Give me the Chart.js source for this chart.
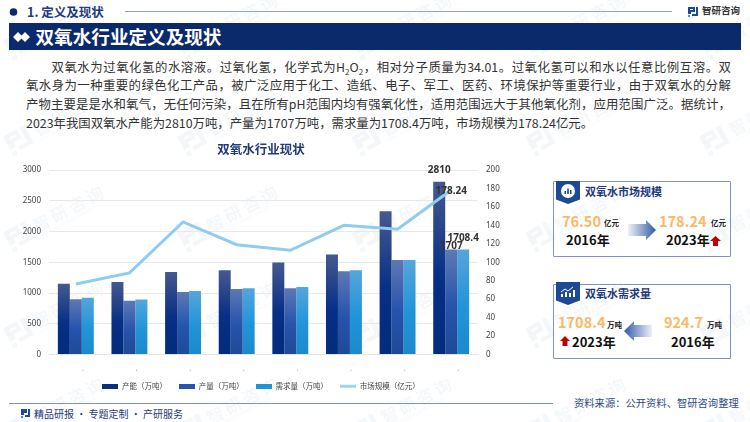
<!DOCTYPE html>
<html lang="zh">
<head>
<meta charset="utf-8">
<script src="https://cdn.jsdelivr.net/npm/chart.js@4"></script>
<style>
* { margin: 0; padding: 0; box-sizing: border-box; }
html, body { width: 750px; height: 422px; overflow: hidden; background: #fff; }
body { position: relative; font-family: "Noto Sans CJK SC", "Noto Sans", sans-serif; color: #333; }
.abs { position: absolute; white-space: nowrap; line-height: 1; }
.mark { position: absolute; width: 112px; height: 40px; transform: rotate(-28deg); opacity: .05; color: #2a6fb5; }
.mark svg { position: absolute; left: 0; top: 6px; }
.mark b { position: absolute; left: 30px; top: 4px; font-size: 17px; letter-spacing: 3px; font-weight: 500; white-space: nowrap; }
.mark i { position: absolute; left: 31px; top: 25px; font-size: 4px; font-style: normal; white-space: nowrap; }
#band { position: absolute; left: 9px; top: 23px; width: 732px; height: 27px; background: #0a2a6b; }
#intro { position: absolute; left: 26px; top: 57.5px; width: 705px; font-size: 12.4px; line-height: 18.7px; color: #333; }
#intro div { text-align: justify; text-align-last: justify; white-space: nowrap; }
#intro div.first { padding-left: 25.5px; }
#intro div.end { text-align-last: left; }
#intro sub { font-size: 8px; line-height: 0; }
#wrap { position: absolute; left: 0; top: 140px; width: 522px; height: 260px; }
.card { position: absolute; left: 552.5px; width: 178px; background: transparent; border: 1.5px solid #7f93c4; border-radius: 1px; }
.rib { position: absolute; left: 556px; width: 24px; height: 23px; background: #1d4a97; clip-path: polygon(0 0, 100% 0, 100% 80%, 50% 100%, 0 80%); }
.ttl { font-weight: 700; font-size: 11px; color: #1f3a7d; }
.val { font-weight: 700; font-size: 14.5px; color: #fbb868; }
.unit { font-weight: 700; font-size: 7.5px; color: #222; }
.yr { font-weight: 700; font-size: 13px; color: #111; }
</style>
</head>
<body>
<div id="marks"></div>

<svg class="abs" style="left:9px;top:7px" width="10" height="10"><circle cx="4.5" cy="5" r="3.8" fill="#0a2a6b"/></svg>
<div class="abs" style="left:27px;top:5.5px;font-size:12.5px;font-weight:700;color:#1f3a7d">1. 定义及现状</div>
<div class="abs" style="left:125px;top:11px;width:547px;height:1px;background:#8fa3cc"></div>
<svg class="abs" style="left:687px;top:6px" width="12" height="12"><path d="M1 1h7v5H4v2H1zM3 3v1h3V3zM9 1h2v9H5V8h4z" fill="#1d4a97"/><rect x="1" y="9" width="2" height="2" fill="#2a9ad8"/></svg>
<div class="abs" style="left:702px;top:6px;font-size:9.5px;font-weight:700;color:#333">智研咨询</div>

<div id="band"></div>
<svg class="abs" style="left:13px;top:31px" width="17" height="12"><path d="M5 1l5 5-5 5-5-5z M12 1l5 5-5 5-5-5z" fill="#fff"/></svg>
<div class="abs" style="left:35.5px;top:27px;font-size:18.6px;font-weight:700;color:#fff">双氧水行业定义及现状</div>

<div id="intro">
<div class="first">双氧水为过氧化氢的水溶液。过氧化氢&#xFF0C;化学式为H<sub>2</sub>O<sub>2</sub>&#xFF0C;相对分子质量为34.01。过氧化氢可以和水以任意比例互溶。双</div>
<div>氧水身为一种重要的绿色化工产品&#xFF0C;被广泛应用于化工、造纸、电子、军工、医药、环境保护等重要行业&#xFF0C;由于双氧水的分解</div>
<div>产物主要是是水和氧气&#xFF0C;无任何污染&#xFF0C;且在所有pH范围内均有强氧化性&#xFF0C;适用范围远大于其他氧化剂&#xFF0C;应用范围广泛。据统计&#xFF0C;</div>
<div class="end">2023年我国双氧水产能为2810万吨&#xFF0C;产量为1707万吨&#xFF0C;需求量为1708.4万吨&#xFF0C;市场规模为178.24亿元。</div>
</div>

<div id="wrap"><canvas id="myChart"></canvas></div>

<div class="card" style="top:181px;height:76px"></div>
<div class="rib" style="top:181px"></div>
<svg class="abs" style="left:560px;top:183px" width="16" height="16"><circle cx="8" cy="8" r="7" fill="#fff"/><path d="M4.5 11V8h1.6v3zM7.2 11V5.5h1.6V11zM9.9 11V7h1.6v4z" fill="#1d4a97"/></svg>
<div class="abs ttl" style="left:585px;top:186px">双氧水市场规模</div>
<div class="abs val" style="left:562px;top:214px">76.50</div>
<div class="abs unit" style="left:604px;top:219px">亿元</div>
<div class="abs yr" style="left:566px;top:233px">2016年</div>
<svg class="abs" style="left:628px;top:220px" width="29" height="20"><defs><linearGradient id="g1"><stop offset="0" stop-color="#2f5aa8" stop-opacity=".08"/><stop offset="1" stop-color="#2f5aa8"/></linearGradient></defs><path d="M0 4h18V0l10 10-10 10v-4H0z" fill="url(#g1)"/></svg>
<div class="abs val" style="left:659px;top:214px">178.24</div>
<div class="abs unit" style="left:711px;top:219px">亿元</div>
<div class="abs yr" style="left:666px;top:233px">2023年</div>
<svg class="abs" style="left:710px;top:236px" width="11" height="10"><path d="M5.5 0L11 5H8v5H3V5H0z" fill="#c00000"/></svg>

<div class="card" style="top:284px;height:75px"></div>
<div class="rib" style="top:282px"></div>
<svg class="abs" style="left:560px;top:285px" width="16" height="14"><path d="M1 12V9h2v3zM5 12V7h2v5zM9 12V8h2v4zM13 12V5h2v7z" fill="#fff"/><path d="M1 7l4-3 3 2 5-4" stroke="#fff" fill="none"/></svg>
<div class="abs ttl" style="left:585px;top:288px">双氧水需求量</div>
<div class="abs val" style="left:558px;top:315px">1708.4</div>
<div class="abs unit" style="left:607px;top:321px">万吨</div>
<svg class="abs" style="left:624px;top:321px" width="28" height="20"><defs><linearGradient id="g2" x1="1" x2="0"><stop offset="0" stop-color="#2f5aa8" stop-opacity=".08"/><stop offset="1" stop-color="#2f5aa8"/></linearGradient></defs><path d="M28 4H10V0L0 10l10 10v-4h18z" fill="url(#g2)"/></svg>
<div class="abs val" style="left:664px;top:315px">924.7</div>
<div class="abs unit" style="left:707px;top:321px">万吨</div>
<svg class="abs" style="left:560px;top:336px" width="10" height="10"><path d="M5 0L10 5H7.5v5h-5V5H0z" fill="#c00000"/></svg>
<div class="abs yr" style="left:572px;top:335px">2023年</div>
<div class="abs yr" style="left:671px;top:335px">2016年</div>

<div class="abs" style="left:9px;top:403px;width:544px;height:1px;background:#7f93c4"></div>
<svg class="abs" style="left:21px;top:409px" width="10" height="10"><path d="M0 0h6v4H3v2H0zM7 0h2v8H4V6h3z" fill="#1d4a97"/><rect y="7" width="2" height="2" fill="#2a9ad8"/></svg>
<div class="abs" style="left:34px;top:409px;font-size:10px;color:#1f3a7d">精品研报 · 专题定制 · 产研服务</div>
<div class="abs" style="left:574px;top:398px;font-size:10.3px;color:#2c4a85">资料来源&#xFF1A;公开资料、智研咨询整理</div>

<script>
// watermark grid
const marks = document.getElementById('marks');
[2, 176, 350, 524, 698].forEach(x => {
    [5, 101, 197, 293, 389].forEach(y => {
        const m = document.createElement('div');
        m.className = 'mark';
        m.style.left = x + 'px';
        m.style.top = y + 'px';
        m.innerHTML = '<svg width="26" height="26"><path d="M0 2h16v10H7v5H0zM5 6v2h7V6zM19 2h5v20H9v-4h10z" fill="currentColor"/><rect y="20" width="5" height="5" fill="currentColor"/></svg><b>智研咨询</b><i>INTELLIGENCE RESEARCH GROUP</i>';
        marks.appendChild(m);
    });
});

const years = ['2016年', '2017年', '2018年', '2019年', '2020年', '2021年', '2022年', '2023年'];
const capacity = [1150, 1180, 1343, 1370, 1495, 1625, 2328, 2810];
const output = [899, 872, 1018, 1067, 1078, 1354, 1538, 1707];
const demand = [924.7, 893, 1034, 1078, 1099, 1370, 1538, 1708.4];
const market = [76.5, 88.5, 143.7, 119, 113, 140, 135.7, 178.24];

// each bar fades from a pale top to its darker base
function barGradient(stops) {
    return function(c) {
        const chart = c.chart;
        if (!chart.chartArea || c.parsed === undefined) return stops[1];
        const top = chart.scales.y.getPixelForValue(c.parsed.y);
        const g = chart.ctx.createLinearGradient(0, top, 0, chart.chartArea.bottom);
        g.addColorStop(0, stops[0]);
        g.addColorStop(0.55, stops[1]);
        g.addColorStop(1, stops[2]);
        return g;
    };
}

// legend swatches: flat blocks for the bars, a thin stroke for the line
function swatch(color, h) {
    const c = document.createElement('canvas');
    c.width = 16;
    c.height = 5;
    const g = c.getContext('2d');
    g.fillStyle = color;
    g.fillRect(0, (5 - h) / 2, 16, h);
    return c;
}
const swatches = [swatch('#0a2f80', 5), swatch('#2653ac', 5), swatch('#2194d8', 5), swatch('#8ecdf0', 2.5)];

// only the 2023 values are labelled: dataset, dx, dy
const lastLabels = {
    id: 'lastLabels',
    afterDatasetsDraw(chart) {
        const ctx = chart.ctx;
        const spots = [[0, 0, -12], [2, 0, -11], [1, 0, -3], [3, 0, 1]];
        ctx.save();
        ctx.font = 'bold 10px "Noto Sans", sans-serif';
        ctx.fillStyle = '#333';
        ctx.textAlign = 'center';
        ctx.textBaseline = 'middle';
        spots.forEach(s => {
            const el = chart.getDatasetMeta(s[0]).data[7];
            ctx.fillText(String(chart.data.datasets[s[0]].data[7]), el.x + s[1], el.y + s[2]);
        });
        ctx.restore();
    }
};

const ctx = document.getElementById('myChart').getContext('2d');
const myChart = new Chart(ctx, {
    type: 'bar',
    data: {
        labels: years,
        datasets: [
            { label: '产能\uFF08万吨\uFF09', data: capacity, order: 1, backgroundColor: barGradient(['#46598f', '#062f86', '#022c7c']) },
            { label: '产量\uFF08万吨\uFF09', data: output, order: 1, backgroundColor: barGradient(['#5f78b5', '#2653ac', '#1f4a98']) },
            { label: '需求量\uFF08万吨\uFF09', data: demand, order: 1, backgroundColor: barGradient(['#55a6db', '#2194d8', '#1a8acb']) },
            { type: 'line', label: '市场规模\uFF08亿元\uFF09', data: market, yAxisID: 'y1', order: 0, borderColor: '#8ecdf0', backgroundColor: '#8ecdf0', borderWidth: 3, pointRadius: 0, tension: 0 }
        ]
    },
    plugins: [lastLabels],
    options: {
        responsive: true,
        maintainAspectRatio: false,
        animation: false,
        layout: { padding: { top: 2, bottom: 0 } },
        datasets: { bar: { categoryPercentage: 0.67, barPercentage: 1 } },
        plugins: {
            title: { display: true, text: '双氧水行业现状', color: '#1f3a7d', font: { family: '"Noto Sans CJK SC"', size: 12.5, weight: 'bold' }, padding: { top: 0, bottom: 13 } },
            tooltip: { enabled: false },
            legend: {
                position: 'bottom',
                labels: {
                    usePointStyle: true,
                    pointStyleWidth: 16,
                    padding: 12,
                    color: '#444',
                    font: { family: '"Noto Sans CJK SC"', size: 7.5 },
                    generateLabels(chart) {
                        return chart.data.datasets.map((d, i) => ({ text: d.label, datasetIndex: i, pointStyle: swatches[i], fontColor: '#444', lineWidth: 0, strokeStyle: 'transparent', fillStyle: 'transparent' }));
                    },
                    sort(a, b) { return a.datasetIndex - b.datasetIndex; }
                }
            }
        },
        scales: {
            x: {
                afterFit(s) { s.height = 16; },
                grid: { display: false },
                border: { color: '#e4e4e4' },
                ticks: { color: '#444', font: { family: '"Noto Sans CJK SC"', size: 8 }, padding: 7 }
            },
            y: {
                min: 0, max: 3000,
                afterFit(s) { s.width = 49; },
                grid: { color: '#e8e8e8', drawTicks: false },
                border: { display: false },
                ticks: { stepSize: 500, color: '#444', font: { family: '"Noto Sans"', size: 8 }, padding: 8, callback: v => String(v) }
            },
            y1: {
                position: 'right',
                min: 0, max: 200,
                afterFit(s) { s.width = 44; },
                grid: { display: false, drawTicks: false },
                border: { display: false },
                ticks: { stepSize: 20, color: '#444', font: { family: '"Noto Sans"', size: 8 }, padding: 8 }
            }
        }
    }
});
</script>
</body>
</html>
